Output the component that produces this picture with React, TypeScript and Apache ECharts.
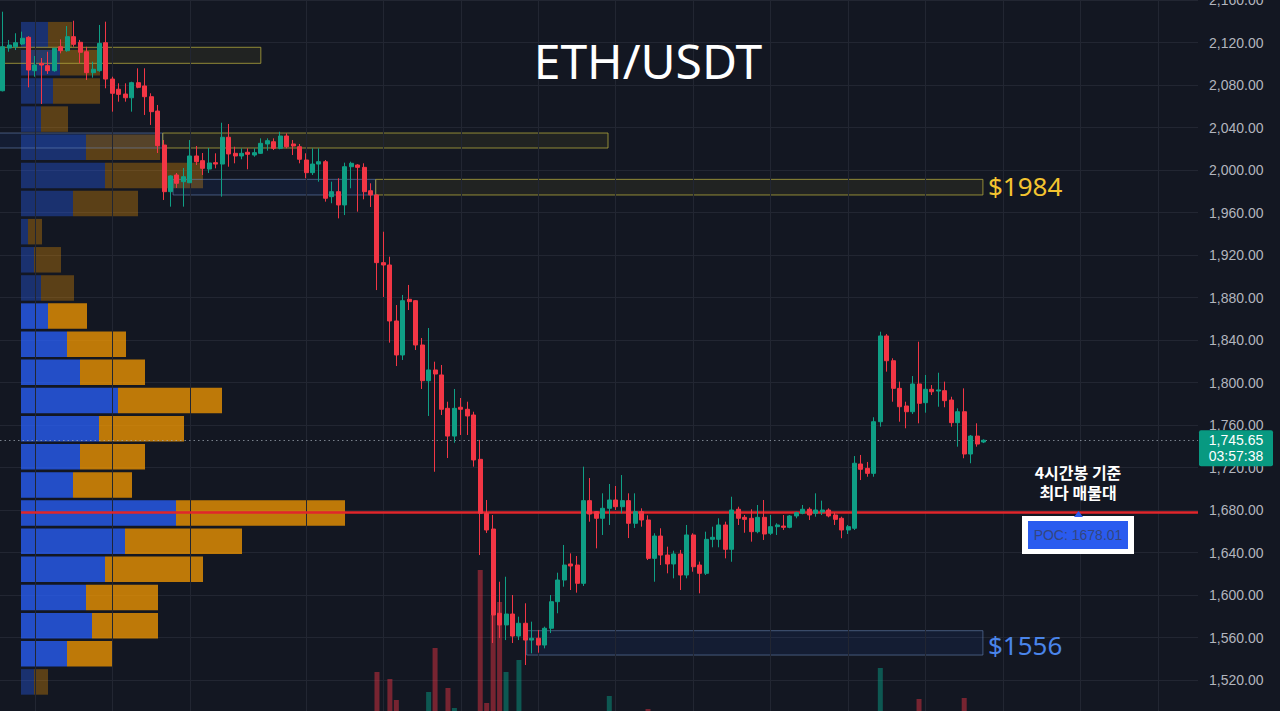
import React, { useEffect, useRef } from "react";
import * as echarts from "echarts";

// ---- candle data (4h ETH/USDT), index = candle number ----
const opens = [
  2074.6, 2114.8, 2116.0, 2118.6, 2124.9, 2093.5, 2100.4, 2098.2, 2093.5, 2116.0,
  2112.3, 2125.5, 2120.2, 2111.3, 2091.6, 2093.5, 2119.8, 2085.6, 2076.0, 2071.5,
  2068.0, 2082.2, 2079.1, 2069.0, 2055.5, 2023.5, 1979.6, 1995.3, 1989.0, 1988.0,
  2013.2, 2008.8, 2000.9, 2006.9, 2005.6, 2030.8, 2015.7, 2013.2, 2016.7, 2014.1,
  2015.7, 2024.5, 2026.6, 2020.4, 2032.0, 2024.5, 2021.9, 2009.4, 1997.5, 2005.6,
  2007.8, 1974.9, 1979.6, 1967.1, 2003.1, 2004.7, 2002.5, 1980.5, 1976.5, 1912.8,
  1910.6, 1857.9, 1825.9, 1878.3, 1877.0, 1835.3, 1801.7, 1811.8, 1807.1, 1775.7,
  1749.6, 1776.7, 1774.8, 1769.4, 1727.7, 1676.9, 1662.1, 1582.8, 1571.8, 1582.1,
  1561.4, 1573.4, 1557.6, 1559.3, 1552.9, 1568.7, 1593.7, 1614.1, 1629.2, 1628.2,
  1611.0, 1688.8, 1678.4, 1672.2, 1681.6, 1689.4, 1683.1, 1688.8, 1667.5, 1678.4,
  1670.6, 1634.5, 1655.5, 1637.6, 1629.2, 1638.6, 1618.8, 1656.5, 1628.2, 1620.4,
  1652.4, 1652.4, 1665.9, 1643.0, 1680.7, 1673.1, 1672.2, 1659.6, 1673.1, 1658.1,
  1664.3, 1664.9, 1663.7, 1674.4, 1676.9, 1680.7, 1676.9, 1678.1, 1680.0, 1675.3,
  1672.2, 1661.2, 1662.8, 1723.3, 1719.2, 1714.5, 1763.1, 1843.8, 1820.5, 1794.5,
  1777.9, 1772.5, 1798.6, 1781.0, 1793.6, 1792.0, 1792.3, 1783.5, 1762.2, 1772.5,
  1732.7, 1749.6, 1744.0,
];
const closes = [
  2116.0, 2117.6, 2119.8, 2124.0, 2094.1, 2098.8, 2098.8, 2093.5, 2114.5, 2112.3,
  2125.5, 2118.3, 2110.8, 2091.6, 2094.8, 2119.2, 2085.6, 2072.2, 2071.2, 2068.0,
  2082.2, 2077.8, 2069.0, 2054.9, 2022.9, 1979.6, 1994.4, 1987.5, 1993.7, 2013.2,
  2007.8, 2001.6, 2006.6, 2005.6, 2030.8, 2015.1, 2013.2, 2015.7, 2014.8, 2016.3,
  2025.1, 2027.6, 2020.4, 2032.0, 2021.9, 2022.6, 2010.1, 1997.5, 2005.6, 2007.8,
  1973.4, 1979.6, 1967.1, 2003.1, 2006.3, 2002.5, 1979.6, 1976.5, 1912.8, 1910.6,
  1857.9, 1825.9, 1877.0, 1876.1, 1835.3, 1801.7, 1811.8, 1808.0, 1774.8, 1749.6,
  1775.7, 1774.8, 1768.5, 1727.1, 1676.9, 1661.2, 1581.2, 1571.8, 1582.1, 1561.4,
  1573.4, 1557.6, 1559.3, 1552.9, 1568.7, 1593.7, 1614.1, 1628.2, 1627.3, 1611.0,
  1688.8, 1676.2, 1672.2, 1681.6, 1689.4, 1683.1, 1688.8, 1667.5, 1678.4, 1670.6,
  1634.5, 1655.5, 1637.6, 1629.2, 1638.6, 1618.8, 1656.5, 1626.6, 1620.4, 1652.4,
  1654.3, 1665.9, 1643.0, 1680.0, 1672.2, 1671.2, 1659.6, 1673.1, 1657.4, 1664.3,
  1665.9, 1663.7, 1674.4, 1677.5, 1680.7, 1675.3, 1680.0, 1680.0, 1674.4, 1671.2,
  1661.2, 1664.3, 1724.0, 1718.3, 1714.5, 1763.1, 1843.8, 1820.5, 1794.5, 1777.2,
  1772.5, 1798.6, 1780.4, 1793.6, 1791.3, 1793.0, 1782.9, 1762.2, 1772.5, 1732.7,
  1749.6, 1742.1, 1745.65,
];
const lows = [
  2074.0, 2111.3, 2112.9, 2117.6, 2077.8, 2087.8, 2062.1, 2090.4, 2092.5, 2109.8,
  2111.3, 2116.0, 2100.4, 2084.7, 2086.9, 2092.5, 2076.9, 2054.9, 2064.3, 2064.3,
  2054.9, 2076.9, 2051.8, 2042.4, 2016.0, 1971.8, 1965.5, 1983.1, 1965.5, 1987.8,
  2004.7, 1995.3, 1997.2, 2001.6, 1974.9, 2003.1, 2006.3, 2010.1, 2000.7, 2012.5,
  2015.1, 2018.2, 2018.8, 2019.5, 2020.4, 2014.1, 2006.3, 1992.2, 1995.3, 1989.0,
  1970.2, 1968.7, 1954.5, 1957.6, 1982.8, 1960.8, 1972.4, 1965.2, 1887.0, 1880.5,
  1837.5, 1815.5, 1821.2, 1868.2, 1830.6, 1793.9, 1768.5, 1716.0, 1769.4, 1728.9,
  1743.3, 1750.6, 1750.6, 1720.8, 1637.6, 1658.4, 1554.8, 1559.5, 1557.6, 1554.8,
  1557.6, 1534.1, 1545.1, 1545.7, 1549.8, 1564.2, 1582.8, 1607.8, 1604.7, 1602.2,
  1608.5, 1669.0, 1643.9, 1656.5, 1665.9, 1680.0, 1676.9, 1653.6, 1663.1, 1664.3,
  1632.9, 1612.5, 1628.2, 1620.4, 1615.7, 1604.7, 1615.7, 1621.9, 1601.6, 1618.8,
  1644.9, 1644.9, 1634.5, 1631.3, 1665.9, 1658.6, 1650.2, 1658.1, 1651.8, 1656.5,
  1656.5, 1661.2, 1662.8, 1672.2, 1676.0, 1670.6, 1673.7, 1675.3, 1673.1, 1665.9,
  1653.4, 1657.4, 1661.2, 1708.2, 1711.3, 1711.3, 1758.4, 1810.2, 1781.9, 1763.1,
  1756.9, 1770.4, 1761.6, 1771.6, 1788.2, 1777.2, 1776.7, 1758.4, 1739.6, 1728.7,
  1724.0, 1739.6, 1743.0,
];
const highs = [
  2149.0, 2122.4, 2128.7, 2130.2, 2126.0, 2107.3, 2105.4, 2111.3, 2115.0, 2123.0,
  2135.5, 2140.5, 2122.4, 2116.0, 2101.9, 2136.5, 2139.6, 2087.8, 2081.6, 2081.6,
  2083.1, 2095.7, 2095.7, 2072.2, 2061.2, 2028.2, 1995.0, 1997.2, 2001.9, 2028.2,
  2022.6, 2016.0, 2020.7, 2015.7, 2044.5, 2043.3, 2021.9, 2020.4, 2020.4, 2020.4,
  2029.8, 2029.8, 2029.8, 2036.0, 2034.5, 2028.2, 2024.5, 2015.7, 2020.4, 2020.4,
  2009.4, 1989.0, 1992.2, 2006.9, 2007.8, 2005.5, 2006.3, 1987.5, 1977.0, 1941.9,
  1918.4, 1872.9, 1882.4, 1891.8, 1877.6, 1841.9, 1851.3, 1819.6, 1816.5, 1781.9,
  1793.9, 1785.4, 1781.9, 1772.5, 1745.9, 1689.4, 1675.3, 1612.5, 1617.2, 1600.0,
  1579.6, 1592.2, 1574.9, 1567.1, 1570.2, 1600.0, 1621.0, 1647.1, 1639.2, 1636.7,
  1720.8, 1710.1, 1679.0, 1695.7, 1704.5, 1702.6, 1712.9, 1695.7, 1695.7, 1681.6,
  1675.0, 1658.1, 1662.8, 1645.5, 1641.7, 1642.4, 1665.9, 1658.1, 1631.4, 1659.6,
  1664.3, 1672.2, 1669.0, 1692.5, 1683.1, 1675.3, 1680.7, 1684.7, 1689.4, 1675.3,
  1667.5, 1675.3, 1675.3, 1678.4, 1684.7, 1682.5, 1695.7, 1688.8, 1681.6, 1677.5,
  1673.7, 1665.9, 1730.8, 1731.8, 1725.2, 1767.3, 1847.8, 1845.6, 1822.8, 1800.8,
  1781.9, 1806.1, 1838.4, 1807.1, 1797.6, 1809.2, 1800.8, 1786.6, 1775.7, 1794.5,
  1750.6, 1761.6, 1746.5,
];

// ---- visible volume bars (candle index, volume) ----
const volumeIndex = [58, 60, 61, 66, 67, 69, 70, 74, 75, 76, 77, 78, 80, 94, 100, 136, 142, 149];
const volumeValue = [88, 81, 60, 68, 112, 72, 52, 190, 57, 145, 158, 88, 100, 64, 51, 92, 61, 62];

// ---- visible range volume profile ----
const profileLevels = [
  2127.3, 2100.8, 2074.3, 2047.9, 2021.4, 1994.9, 1968.4, 1941.9, 1915.5, 1889.0, 1862.5, 1836.0,
  1809.5, 1783.1, 1756.6, 1730.1, 1703.6, 1677.1, 1650.7, 1624.2, 1597.7, 1571.2, 1544.7, 1518.2,
];
const profileBuy = [27, 39, 32, 20, 65, 84, 52, 7, 13, 20, 27, 46, 59, 97, 78, 59, 52, 155, 104, 84, 65, 71, 46, 13];
const profileSell = [24, 40, 47, 27, 74, 98, 65, 14, 27, 33, 39, 59, 65, 104, 85, 65, 59, 169, 117, 98, 72, 66, 46, 14];
const profileValueArea = [0, 0, 0, 0, 0, 0, 0, 0, 0, 0, 1, 1, 1, 1, 1, 1, 1, 1, 1, 1, 1, 1, 1, 0];

// ---- drawn zones (start candle, end candle, top price, bottom price, kind 0=yellow 1=blue) ----
const boxStart = [-2, -2, 24.8, 26.4, 57.8, 81.2];
const boxEnd = [40.0, 24.8, 93.8, 57.8, 151.9, 151.9];
const boxTop = [2115.5, 2034.8, 2034.8, 1991.2, 1991.2, 1566.4];
const boxBottom = [2100.4, 2020.7, 2020.7, 1976.5, 1976.5, 1543.5];
const boxKind = [0, 1, 0, 1, 0, 1];

// ---- time grid (candle index of each vertical grid line) ----
const timeGridIndex = [5, 17, 29, 47, 59, 71, 83, 95, 107, 119, 131, 143, 155, 167, 179];

const pocPrice = 1678.01;
const lastPrice = 1745.65;
const countdown = "03:57:38";
const priceMin = 1480;
const priceMax = 2200;
const priceStep = 40;

const UP = "#0f9f85";
const DOWN = "#f23645";
const BG = "#131722";
const GRID = "#222632";
const X_MIN = -0.42;
const X_MAX = 185.23;

const fmt = (v: number) =>
  v.toLocaleString("en-US", { minimumFractionDigits: 2, maximumFractionDigits: 2 });

export default function App() {
  const ref = useRef<HTMLDivElement>(null);

  useEffect(() => {
    const chart = echarts.init(ref.current!, null, { renderer: "svg" });

    const candleData = opens.map((o, i) => [i, o, closes[i], lows[i], highs[i]]);
    const volData = volumeIndex.map((idx, k) => ({
      value: [idx, volumeValue[k]],
      itemStyle: {
        color: closes[idx] >= opens[idx] ? "rgba(8,153,129,0.5)" : "rgba(242,54,69,0.45)",
      },
    }));
    const buyData = profileBuy.map((v, k) => ({
      value: v,
      itemStyle: { color: profileValueArea[k] ? "rgba(41,98,255,0.75)" : "rgba(41,98,255,0.35)" },
    }));
    const sellData = profileSell.map((v, k) => ({
      value: v,
      itemStyle: { color: profileValueArea[k] ? "rgba(245,152,0,0.76)" : "rgba(245,152,0,0.32)" },
    }));
    const boxData = boxStart.map((s, k) => [s, boxEnd[k], boxTop[k], boxBottom[k], boxKind[k]]);

    const centered = { align: "center", verticalAlign: "middle", textAlign: "center", textVerticalAlign: "middle" };
    const leftMid = { align: "left", verticalAlign: "middle", textAlign: "left", textVerticalAlign: "middle" };

    const option: any = {
      animation: false,
      backgroundColor: BG,
      grid: [
        { left: 0, width: 1198, top: -42.5, height: 765, outerBoundsMode: "none", containLabel: false },
        { left: 21, width: 1000, top: 20.6, height: 675.4, outerBoundsMode: "none", containLabel: false },
        { left: 0, width: 1198, top: 351, height: 409, outerBoundsMode: "none", containLabel: false },
      ],
      xAxis: [
        { type: "value", gridIndex: 0, min: X_MIN, max: X_MAX, show: false },
        { type: "value", gridIndex: 1, min: 0, max: 1000, show: false },
        { type: "value", gridIndex: 2, min: X_MIN, max: X_MAX, show: false },
      ],
      yAxis: [
        {
          type: "value",
          gridIndex: 0,
          position: "right",
          min: priceMin,
          max: priceMax,
          interval: priceStep,
          axisLine: { show: false },
          axisTick: { show: false },
          splitLine: { show: true, lineStyle: { color: GRID, width: 1 } },
          axisLabel: {
            margin: 11,
            color: "#b2b5be",
            fontSize: 14,
            fontFamily: "Liberation Sans",
            showMinLabel: false,
            showMaxLabel: false,
            formatter: (v: number) => fmt(v),
          },
        },
        {
          type: "category",
          gridIndex: 1,
          inverse: true,
          data: profileLevels.map((p) => String(p)),
          show: false,
        },
        { type: "value", gridIndex: 2, min: 0, max: 409, show: false },
      ],
      series: [
        {
          type: "line",
          xAxisIndex: 0,
          yAxisIndex: 0,
          data: [],
          z: 0,
          silent: true,
          markLine: {
            silent: true,
            symbol: ["none", "none"],
            label: { show: false },
            lineStyle: { color: GRID, width: 1, type: "solid" },
            data: timeGridIndex.map((x) => ({ xAxis: x })),
          },
        },
        {
          type: "line",
          xAxisIndex: 0,
          yAxisIndex: 0,
          data: [],
          z: 1,
          silent: true,
          markLine: {
            silent: true,
            symbol: ["none", "none"],
            label: { show: false },
            data: [
              [
                { coord: [2.84, pocPrice], lineStyle: { color: "#e0262b", width: 2.5, type: "solid" } },
                { coord: [X_MAX, pocPrice] },
              ],
              [
                { coord: [X_MIN, lastPrice], lineStyle: { color: "rgba(165,175,185,0.7)", width: 1, type: [1.5, 3] } },
                { coord: [X_MAX, lastPrice] },
              ],
            ],
          },
        },
        {
          type: "bar",
          xAxisIndex: 1,
          yAxisIndex: 1,
          stack: "vp",
          barWidth: 25.5,
          data: buyData,
          z: 2,
          silent: true,
        },
        {
          type: "bar",
          xAxisIndex: 1,
          yAxisIndex: 1,
          stack: "vp",
          barWidth: 25.5,
          data: sellData,
          z: 2,
          silent: true,
        },
        {
          type: "custom",
          xAxisIndex: 0,
          yAxisIndex: 0,
          z: 3,
          silent: true,
          encode: { x: [0, 1], y: [2, 3] },
          data: boxData,
          renderItem: (params: any, api: any) => {
            const p0 = api.coord([api.value(0), api.value(2)]);
            const p1 = api.coord([api.value(1), api.value(3)]);
            const kind = api.value(4);
            return {
              type: "rect",
              shape: { x: p0[0], y: p0[1], width: p1[0] - p0[0], height: p1[1] - p0[1] },
              style:
                kind === 0
                  ? { fill: "rgba(160,150,40,0.10)", stroke: "rgba(175,165,60,0.8)", lineWidth: 1 }
                  : { fill: "rgba(41,98,255,0.08)", stroke: "rgba(110,140,190,0.55)", lineWidth: 1 },
            };
          },
        },
        {
          type: "bar",
          xAxisIndex: 2,
          yAxisIndex: 2,
          barWidth: 5,
          data: volData,
          z: 3,
          silent: true,
        },
        {
          type: "candlestick",
          xAxisIndex: 0,
          yAxisIndex: 0,
          barWidth: 4.5,
          z: 5,
          silent: true,
          data: candleData,
          itemStyle: {
            color: UP,
            color0: DOWN,
            borderColor: UP,
            borderColor0: DOWN,
            borderWidth: 1,
          },
        },
      ],
    };

    chart.setOption(option);

    const lastY = chart.convertToPixel({ yAxisIndex: 0 }, lastPrice) as number;
    const pocY = chart.convertToPixel({ yAxisIndex: 0 }, pocPrice) as number;

    chart.setOption({
      graphic: [
        {
          type: "text",
          x: 648,
          y: 60,
          z: 20,
          style: { text: "ETH/USDT", fill: "#ffffff", font: "48px 'Noto Sans'", ...centered },
        },
        {
          type: "text",
          x: 988,
          y: 186,
          z: 20,
          style: { text: "$1984", fill: "#f4c430", font: "26px 'Noto Sans'", ...leftMid },
        },
        {
          type: "text",
          x: 988,
          y: 645,
          z: 20,
          style: { text: "$1556", fill: "#4a85ea", font: "26px 'Noto Sans'", ...leftMid },
        },
        {
          type: "text",
          x: 1078,
          y: 482,
          z: 20,
          style: {
            text: "4시간봉 기준\n최다 매물대",
            fill: "#ffffff",
            font: "bold 16px 'Noto Sans CJK KR'",
            lineHeight: 20,
            ...centered,
          },
        },
        {
          type: "rect",
          z: 20,
          shape: { x: 1022, y: pocY + 4, width: 112, height: 38 },
          style: { fill: "#ffffff" },
        },
        {
          type: "rect",
          z: 21,
          shape: { x: 1028, y: pocY + 9, width: 100, height: 28 },
          style: { fill: "#2a5bef" },
        },
        {
          type: "polygon",
          z: 21,
          shape: { points: [[1074, pocY + 5], [1078.5, pocY - 1], [1083, pocY + 5]] },
          style: { fill: "#2a5bef" },
        },
        {
          type: "text",
          x: 1078,
          y: pocY + 23,
          z: 22,
          style: {
            text: "POC: " + pocPrice.toFixed(2),
            fill: "#34467e",
            font: "14px 'Liberation Sans'",
            ...centered,
          },
        },
        {
          type: "rect",
          z: 20,
          shape: { x: 1199, y: lastY - 10, width: 74, height: 36, r: 2 },
          style: { fill: "#089981" },
        },
        {
          type: "text",
          x: 1236,
          y: lastY + 8,
          z: 21,
          style: {
            text: fmt(lastPrice) + "\n" + countdown,
            fill: "#ffffff",
            font: "14px 'Liberation Sans'",
            lineHeight: 16,
            ...centered,
          },
        },
      ],
    });

    return () => chart.dispose();
  }, []);

  return (
    <div
      ref={ref}
      style={{ position: "fixed", left: 0, top: 0, width: 1280, height: 711, background: BG }}
    />
  );
}
